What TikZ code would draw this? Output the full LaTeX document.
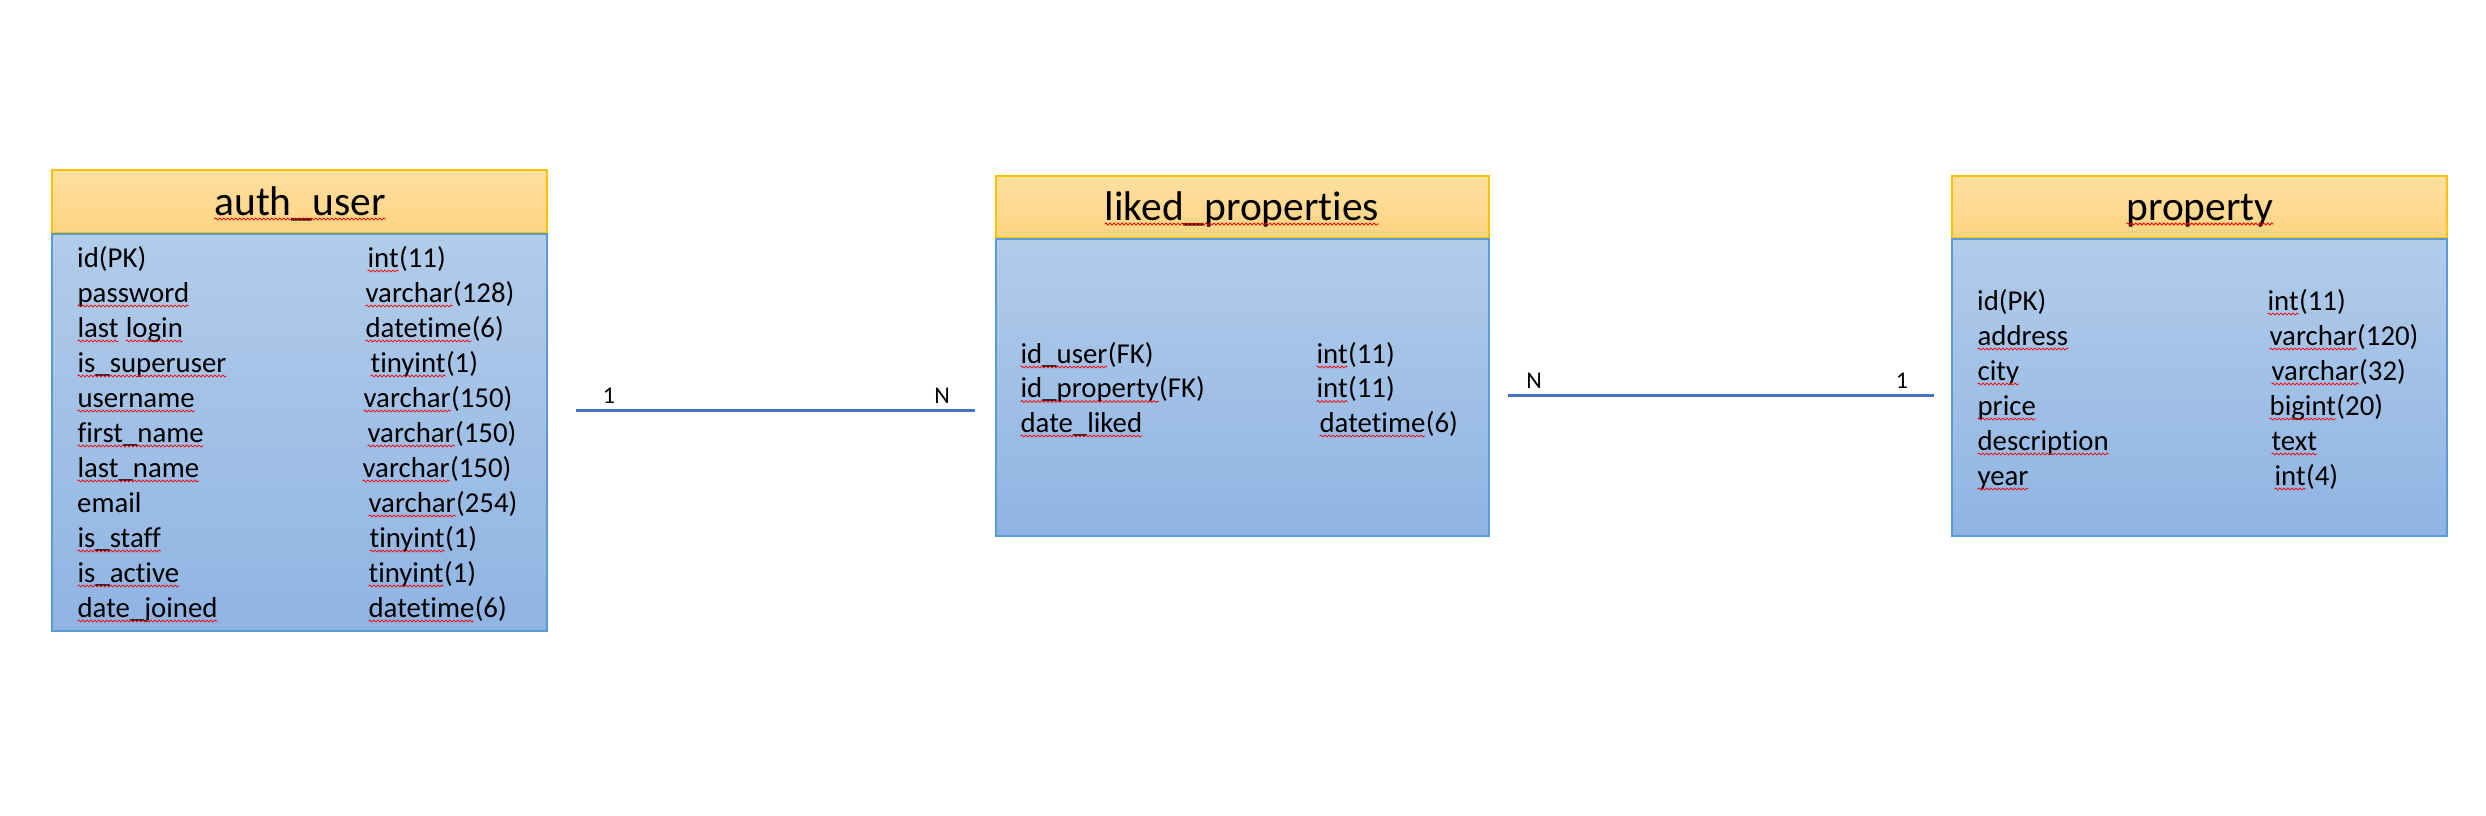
\documentclass[tikz,border=0pt]{standalone}
\usepackage{fontspec}
\setmainfont{Carlito}[Ligatures=NoCommon]
\usetikzlibrary{positioning,decorations.pathmorphing}

\definecolor{headline}{RGB}{255,192,0}
\definecolor{headtop}{RGB}{255,223,160}
\definecolor{headbot}{RGB}{254,212,130}
\definecolor{bodyline}{RGB}{91,155,213}
\definecolor{bodytop}{RGB}{178,204,234}
\definecolor{bodybot}{RGB}{143,180,227}
\definecolor{relline}{RGB}{68,114,196}

% red wavy spell-check underline
\newcommand\spell[1]{\tikz[baseline=(w.base)]{\node[anchor=base,inner sep=0pt,outer sep=0pt] (w) {#1};
  \draw[red, line width=0.8pt, decorate, decoration={snake, amplitude=1pt, segment length=4pt}]
    ([yshift=-4pt]w.base west) -- ([yshift=-4pt]w.base east);}}

\tikzset{
  tablehead/.style={draw=headline, line width=2.5pt, top color=headtop, bottom color=headbot,
    minimum width=495pt, minimum height=63pt, inner sep=0pt},
  tablebody/.style={draw=bodyline, line width=2.5pt, top color=bodytop, bottom color=bodybot,
    minimum width=495pt, inner sep=0pt},
  tabletitle/.style={anchor=base, inner sep=0pt, font=\fontsize{41.5}{50}\selectfont},
  field/.style={anchor=base west, inner sep=0pt, font=\fontsize{28.8}{35}\selectfont},
  card/.style={anchor=base, inner sep=0pt, font=\fontsize{24}{29}\selectfont},
  relation/.style={draw=relline, line width=3pt}
}

\begin{document}
\begin{tikzpicture}[x=1pt,y=-1pt]
\useasboundingbox (0,0) rectangle (2486,815);

% auth_user
\node[tablehead] (au-head) at (299.5,201.5) {};
\node[tablebody, minimum height=397pt] (au-body) at (299.5,432.5) {};
\node[tabletitle] (au-title) at (300,215) {\spell{auth\_user}};
\foreach \i/\name/\type/\tx in {
  1/{id(PK)}/{\spell{int}(11)}/367,
  2/{\spell{password}}/{\spell{varchar}(128)}/365,
  3/{\spell{last} \spell{login}}/{\spell{datetime}(6)}/365,
  4/{\spell{is\_superuser}}/{\spell{tinyint}(1)}/370,
  5/{\spell{username}}/{\spell{varchar}(150)}/363,
  6/{\spell{first\_name}}/{\spell{varchar}(150)}/367,
  7/{\spell{last\_name}}/{\spell{varchar}(150)}/362,
  8/{email}/{\spell{varchar}(254)}/368,
  9/{\spell{is\_staff}}/{\spell{tinyint}(1)}/369,
  10/{\spell{is\_active}}/{\spell{tinyint}(1)}/368,
  11/{\spell{date\_joined}}/{\spell{datetime}(6)}/368}
{
  \node[field] (au-n\i) at (77,{267+35*(\i-1)}) {\name};
  \node[field] (au-t\i) at (\tx,{267+35*(\i-1)}) {\type};
}

% liked_properties
\node[tablehead, minimum width=493pt, minimum height=62pt] (lp-head) at (1242.5,207) {};
\node[tablebody, minimum width=493pt, minimum height=297pt] (lp-body) at (1242.5,387.5) {};
\node[tabletitle] (lp-title) at (1242,220) {\spell{liked\_properties}};
\foreach \i/\name/\type/\tx in {
  1/{\spell{id\_user}(FK)}/{\spell{int}(11)}/1316,
  2/{\spell{id\_property}(FK)}/{\spell{int}(11)}/1316,
  3/{\spell{date\_liked}}/{\spell{datetime}(6)}/1319}
{
  \node[field] (lp-n\i) at (1020,{363+34.5*(\i-1)}) {\name};
  \node[field] (lp-t\i) at (\tx,{363+34.5*(\i-1)}) {\type};
}

% property
\node[tablehead, minimum height=62pt] (pr-head) at (2199.5,207) {};
\node[tablebody, minimum height=297pt] (pr-body) at (2199.5,387.5) {};
\node[tabletitle] (pr-title) at (2200,220) {\spell{property}};
\foreach \i/\name/\type/\tx in {
  1/{id(PK)}/{\spell{int}(11)}/2267,
  2/{\spell{address}}/{\spell{varchar}(120)}/2269,
  3/{\spell{city}}/{\spell{varchar}(32)}/2271,
  4/{\spell{price}}/{\spell{bigint}(20)}/2269,
  5/{\spell{description}}/{\spell{text}}/2271,
  6/{\spell{year}}/{\spell{int}(4)}/2274}
{
  \node[field] (pr-n\i) at (1977,{310+35*(\i-1)}) {\name};
  \node[field] (pr-t\i) at (\tx,{310+35*(\i-1)}) {\type};
}

% relations
\coordinate (r1-a) at (576,410);
\coordinate (r1-b) at (975,410);
\draw[relation] (r1-a) -- (r1-b);
\node[card] (r1-one) at (609,403) {1};
\node[card] (r1-many) at (942,403) {N};

\coordinate (r2-a) at (1508,395);
\coordinate (r2-b) at (1934,395);
\draw[relation] (r2-a) -- (r2-b);
\node[card] (r2-many) at (1534,388) {N};
\node[card] (r2-one) at (1902,388) {1};
\end{tikzpicture}
\end{document}
